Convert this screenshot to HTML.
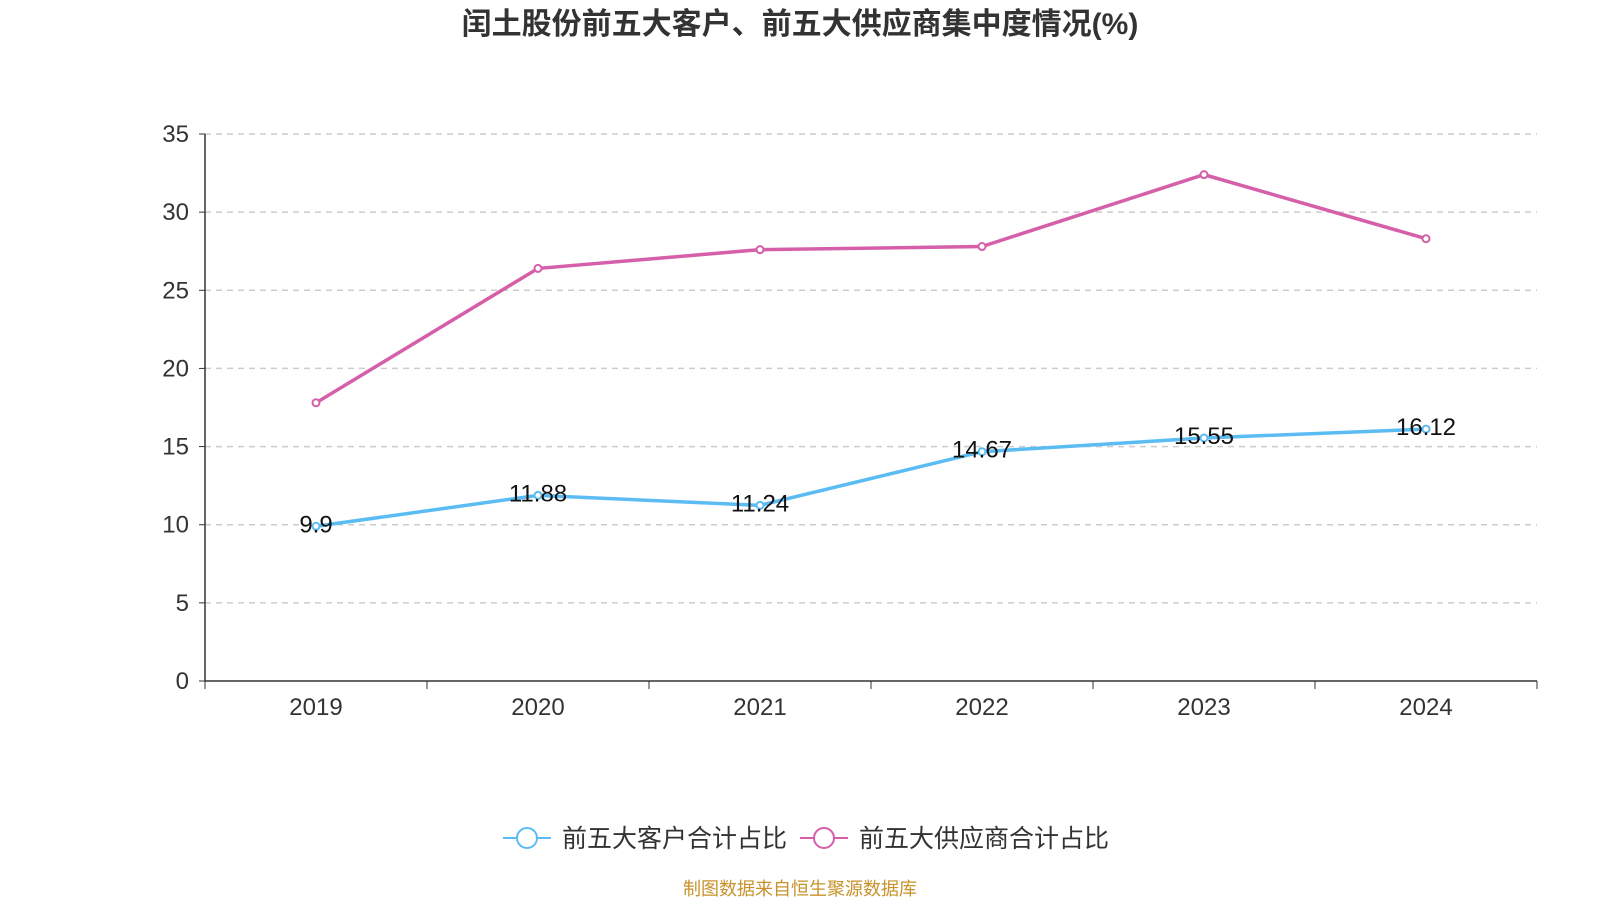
<!DOCTYPE html>
<html><head><meta charset="utf-8"><style>
body{margin:0;background:#fff;font-family:"Liberation Sans","Noto Sans CJK SC",sans-serif;}
</style></head><body>
<svg id="c" width="1600" height="900" xmlns="http://www.w3.org/2000/svg">
<text x="800" y="34" text-anchor="middle" font-size="30" font-weight="bold" fill="#333" font-family="Liberation Sans, Noto Sans CJK SC, sans-serif">闰土股份前五大客户、前五大供应商集中度情况(%)</text>
<g id="grid"></g><g id="axes"></g><g id="series"></g>
<g>
<line x1="503" y1="838" x2="551" y2="838" stroke="#5bbcf4" stroke-width="2"/>
<circle cx="527" cy="838" r="10" fill="#fff" stroke="#5bbcf4" stroke-width="2"/>
<text x="562" y="847" font-size="25" fill="#333" font-family="Liberation Sans, Noto Sans CJK SC, sans-serif">前五大客户合计占比</text>
<line x1="800" y1="838" x2="848" y2="838" stroke="#d55fa8" stroke-width="2"/>
<circle cx="824" cy="838" r="10" fill="#fff" stroke="#d55fa8" stroke-width="2"/>
<text x="859" y="847" font-size="25" fill="#333" font-family="Liberation Sans, Noto Sans CJK SC, sans-serif">前五大供应商合计占比</text>
</g>
<text x="800" y="895" text-anchor="middle" font-size="18" fill="#c8922a" font-family="Liberation Sans, Noto Sans CJK SC, sans-serif">制图数据来自恒生聚源数据库</text>
</svg>
<script>
const categories=["2019","2020","2021","2022","2023","2024"];
const customers=[9.9,11.88,11.24,14.67,15.55,16.12];
const suppliers=[17.8,26.4,27.6,27.8,32.4,28.3];
const yTicks=[0,5,10,15,20,25,30,35];
const NS="http://www.w3.org/2000/svg";
const L=205,R=1537,T=134,B=681,yMax=35;
const band=(R-L)/categories.length;
const x=i=>L+band*(i+0.5);
const y=v=>B-(v/yMax)*(B-T);
function mk(t,a,p){const e=document.createElementNS(NS,t);for(const k in a)e.setAttribute(k,a[k]);p.appendChild(e);return e;}
const g=document.getElementById('grid'),ax=document.getElementById('axes'),s=document.getElementById('series');
yTicks.forEach(v=>{
 if(v>0){const l=mk('line',{x1:L,x2:R,y1:y(v),y2:y(v),stroke:'#ccc','stroke-dasharray':'6,5','stroke-width':1.5},g);
 
 }
 mk('line',{x1:L-6,x2:L,y1:y(v),y2:y(v),stroke:'#333'},ax);
 const t=mk('text',{x:L-16,y:y(v)+8,'text-anchor':'end','font-size':24,fill:'#333','font-family':'Liberation Sans, sans-serif'},ax);
 t.textContent=v;
 
 
});
mk('line',{x1:L,x2:L,y1:T,y2:B,stroke:'#333','stroke-width':1.5},ax);
mk('line',{x1:L,x2:R,y1:B,y2:B,stroke:'#333','stroke-width':1.5},ax);
for(let i=0;i<=categories.length;i++)mk('line',{x1:L+band*i,x2:L+band*i,y1:B,y2:B+8,stroke:'#333'},ax);
categories.forEach((c,i)=>{
 const t=mk('text',{x:x(i),y:B+34,'text-anchor':'middle','font-size':24,fill:'#333','font-family':'Liberation Sans, sans-serif'},ax);
 t.textContent=c;
 
 
});
function series(vals,color,name,labels){
 const p=mk('polyline',{points:vals.map((v,i)=>x(i)+','+y(v)).join(' '),fill:'none',stroke:color,'stroke-width':3.5},s);
 
 
 vals.forEach((v,i)=>{
  const c=mk('circle',{cx:x(i),cy:y(v),r:3.5,fill:'#fff',stroke:color,'stroke-width':2},s);
  
  
  if(labels){const t=mk('text',{x:x(i),y:y(v)+6,'text-anchor':'middle','font-size':24,fill:'#111','font-family':'Liberation Sans, sans-serif'},s);
  t.textContent=v;
  
  }
 });
}
series(suppliers,'#d55fa8','suppliers',false);
series(customers,'#5bbcf4','customers',true);
</script>
</body></html>
